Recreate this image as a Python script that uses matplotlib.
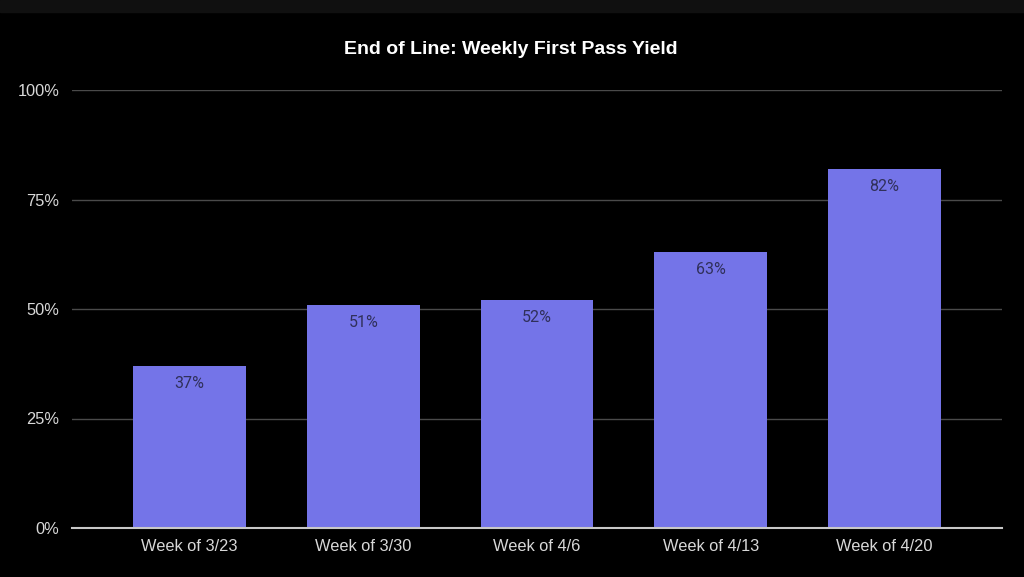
import matplotlib
matplotlib.use("Agg")
import matplotlib.pyplot as plt
from matplotlib.patches import Rectangle

categories = ["Week of 3/23", "Week of 3/30", "Week of 4/6", "Week of 4/13", "Week of 4/20"]
values = [37, 51, 52, 63, 82]
yticks = [0, 25, 50, 75, 100]
ytick_labels = ["0%", "25%", "50%", "75%", "100%"]
title = "End of Line: Weekly First Pass Yield"

W, H = 1024, 577
fig = plt.figure(figsize=(W / 100, H / 100), dpi=100, facecolor="black")
fig.patches.append(Rectangle((0, 1 - 12 / H), 1, 12 / H, transform=fig.transFigure,
                             color="#101010", zorder=0))
ax = fig.add_axes([72 / W, (H - 528) / H, (1002 - 72) / W, (528 - 90) / H])
ax.set_facecolor("black")

x = list(range(len(categories)))
bars = ax.bar(x, values, width=0.65, color="#7474E8", zorder=3)
for xi, v in zip(x, values):
    ax.text(xi, v - 4.0, f"{v}%", ha="center", va="center", fontsize=11.5,
            color="#30305a", family="Roboto", zorder=4)

ax.set_xlim(-0.677, len(categories) - 1 + 0.677)
ax.set_ylim(0, 100)
ax.set_yticks(yticks)
ax.set_yticklabels(ytick_labels)
ax.set_xticks(x)
ax.set_xticklabels(categories)
ax.tick_params(axis="both", length=0, colors="#d8d8d8", labelsize=11.8)
ax.tick_params(axis="y", pad=9)
ax.tick_params(axis="x", pad=8)
for lab in ax.get_xticklabels() + ax.get_yticklabels():
    lab.set_family("Liberation Sans")
ax.grid(axis="y", color="#4a4a4a", linewidth=1, zorder=1)
ax.grid(axis="x", visible=False)
for s in ["top", "right", "left"]:
    ax.spines[s].set_visible(False)
ax.spines["bottom"].set_color("#c8c8c8")
ax.spines["bottom"].set_linewidth(1.5)
ax.spines["bottom"].set_zorder(5)

fig.text(510.5 / W, 1 - 50 / H, title, ha="center", va="center",
         fontsize=14, fontweight="bold", color="white", family="Liberation Sans")

fig.savefig("out.png", dpi=100, facecolor="black")
